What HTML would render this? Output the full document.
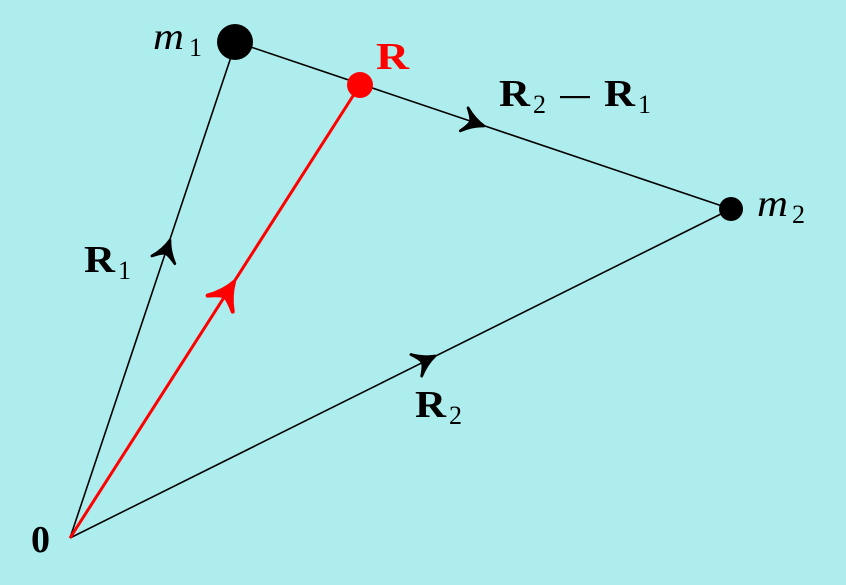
<!DOCTYPE html>
<html><head><style>
html,body{margin:0;padding:0;background:#AEEDED;}
svg{display:block}
text{font-family:"Liberation Serif",serif;}
</style></head><body>
<svg width="846" height="585" viewBox="0 0 846 585" xmlns="http://www.w3.org/2000/svg">
<rect width="846" height="585" fill="#AEEDED"/>
<defs>
<path id="ah" d="M0,0 Q-10,3 -19,11 Q-13,3 -13,0 Q-13,-3 -19,-11 Q-10,-3 0,0Z"/>
</defs>
<g stroke="#000" stroke-width="1.6" fill="none">
<line x1="70" y1="538" x2="236" y2="42"/>
<line x1="236" y1="42" x2="731" y2="209"/>
<line x1="70" y1="538" x2="731" y2="209"/>
</g>
<line x1="70" y1="538" x2="360" y2="85" stroke="#f00" stroke-width="3"/>
<use href="#ah" transform="translate(170,240) rotate(-71.5) scale(1.1)" fill="#000" stroke="#000" stroke-width="2.5" stroke-linejoin="round"/>
<use href="#ah" transform="translate(484,126) rotate(18.6) scale(1.1)" fill="#000" stroke="#000" stroke-width="2.5" stroke-linejoin="round"/>
<use href="#ah" transform="translate(435,356) rotate(-26.5) scale(1.1)" fill="#000" stroke="#000" stroke-width="2.5" stroke-linejoin="round"/>
<use href="#ah" transform="translate(234,282) rotate(-57.4) scale(1.35)" fill="#f00" stroke="#f00" stroke-width="3" stroke-linejoin="round"/>
<circle cx="235" cy="42" r="18" fill="#000"/>
<circle cx="360" cy="85" r="13" fill="#f00"/>
<circle cx="731" cy="209" r="12" fill="#000"/>
<text x="153" y="49" font-size="38" font-style="italic" textLength="31" lengthAdjust="spacingAndGlyphs">m</text><text x="189" y="56" font-size="26">1</text>
<text x="376" y="69" font-size="38" font-weight="bold" fill="#f00" textLength="33" lengthAdjust="spacingAndGlyphs">R</text>
<text x="499" y="106" font-size="38" font-weight="bold" textLength="31" lengthAdjust="spacingAndGlyphs">R</text><text x="533" y="113" font-size="26">2</text>
<rect x="560" y="96" width="30" height="2.2" fill="#000"/>
<text x="604" y="106" font-size="38" font-weight="bold" textLength="31" lengthAdjust="spacingAndGlyphs">R</text><text x="638" y="113" font-size="26">1</text>
<text x="757" y="216" font-size="38" font-style="italic" textLength="31" lengthAdjust="spacingAndGlyphs">m</text><text x="792" y="223" font-size="26">2</text>
<text x="84" y="272" font-size="38" font-weight="bold" textLength="31" lengthAdjust="spacingAndGlyphs">R</text><text x="118" y="279" font-size="26">1</text>
<text x="415" y="417" font-size="38" font-weight="bold" textLength="31" lengthAdjust="spacingAndGlyphs">R</text><text x="449" y="424" font-size="26">2</text>
<text x="31" y="552" font-size="38" font-weight="bold">0</text>
</svg>
</body></html>
